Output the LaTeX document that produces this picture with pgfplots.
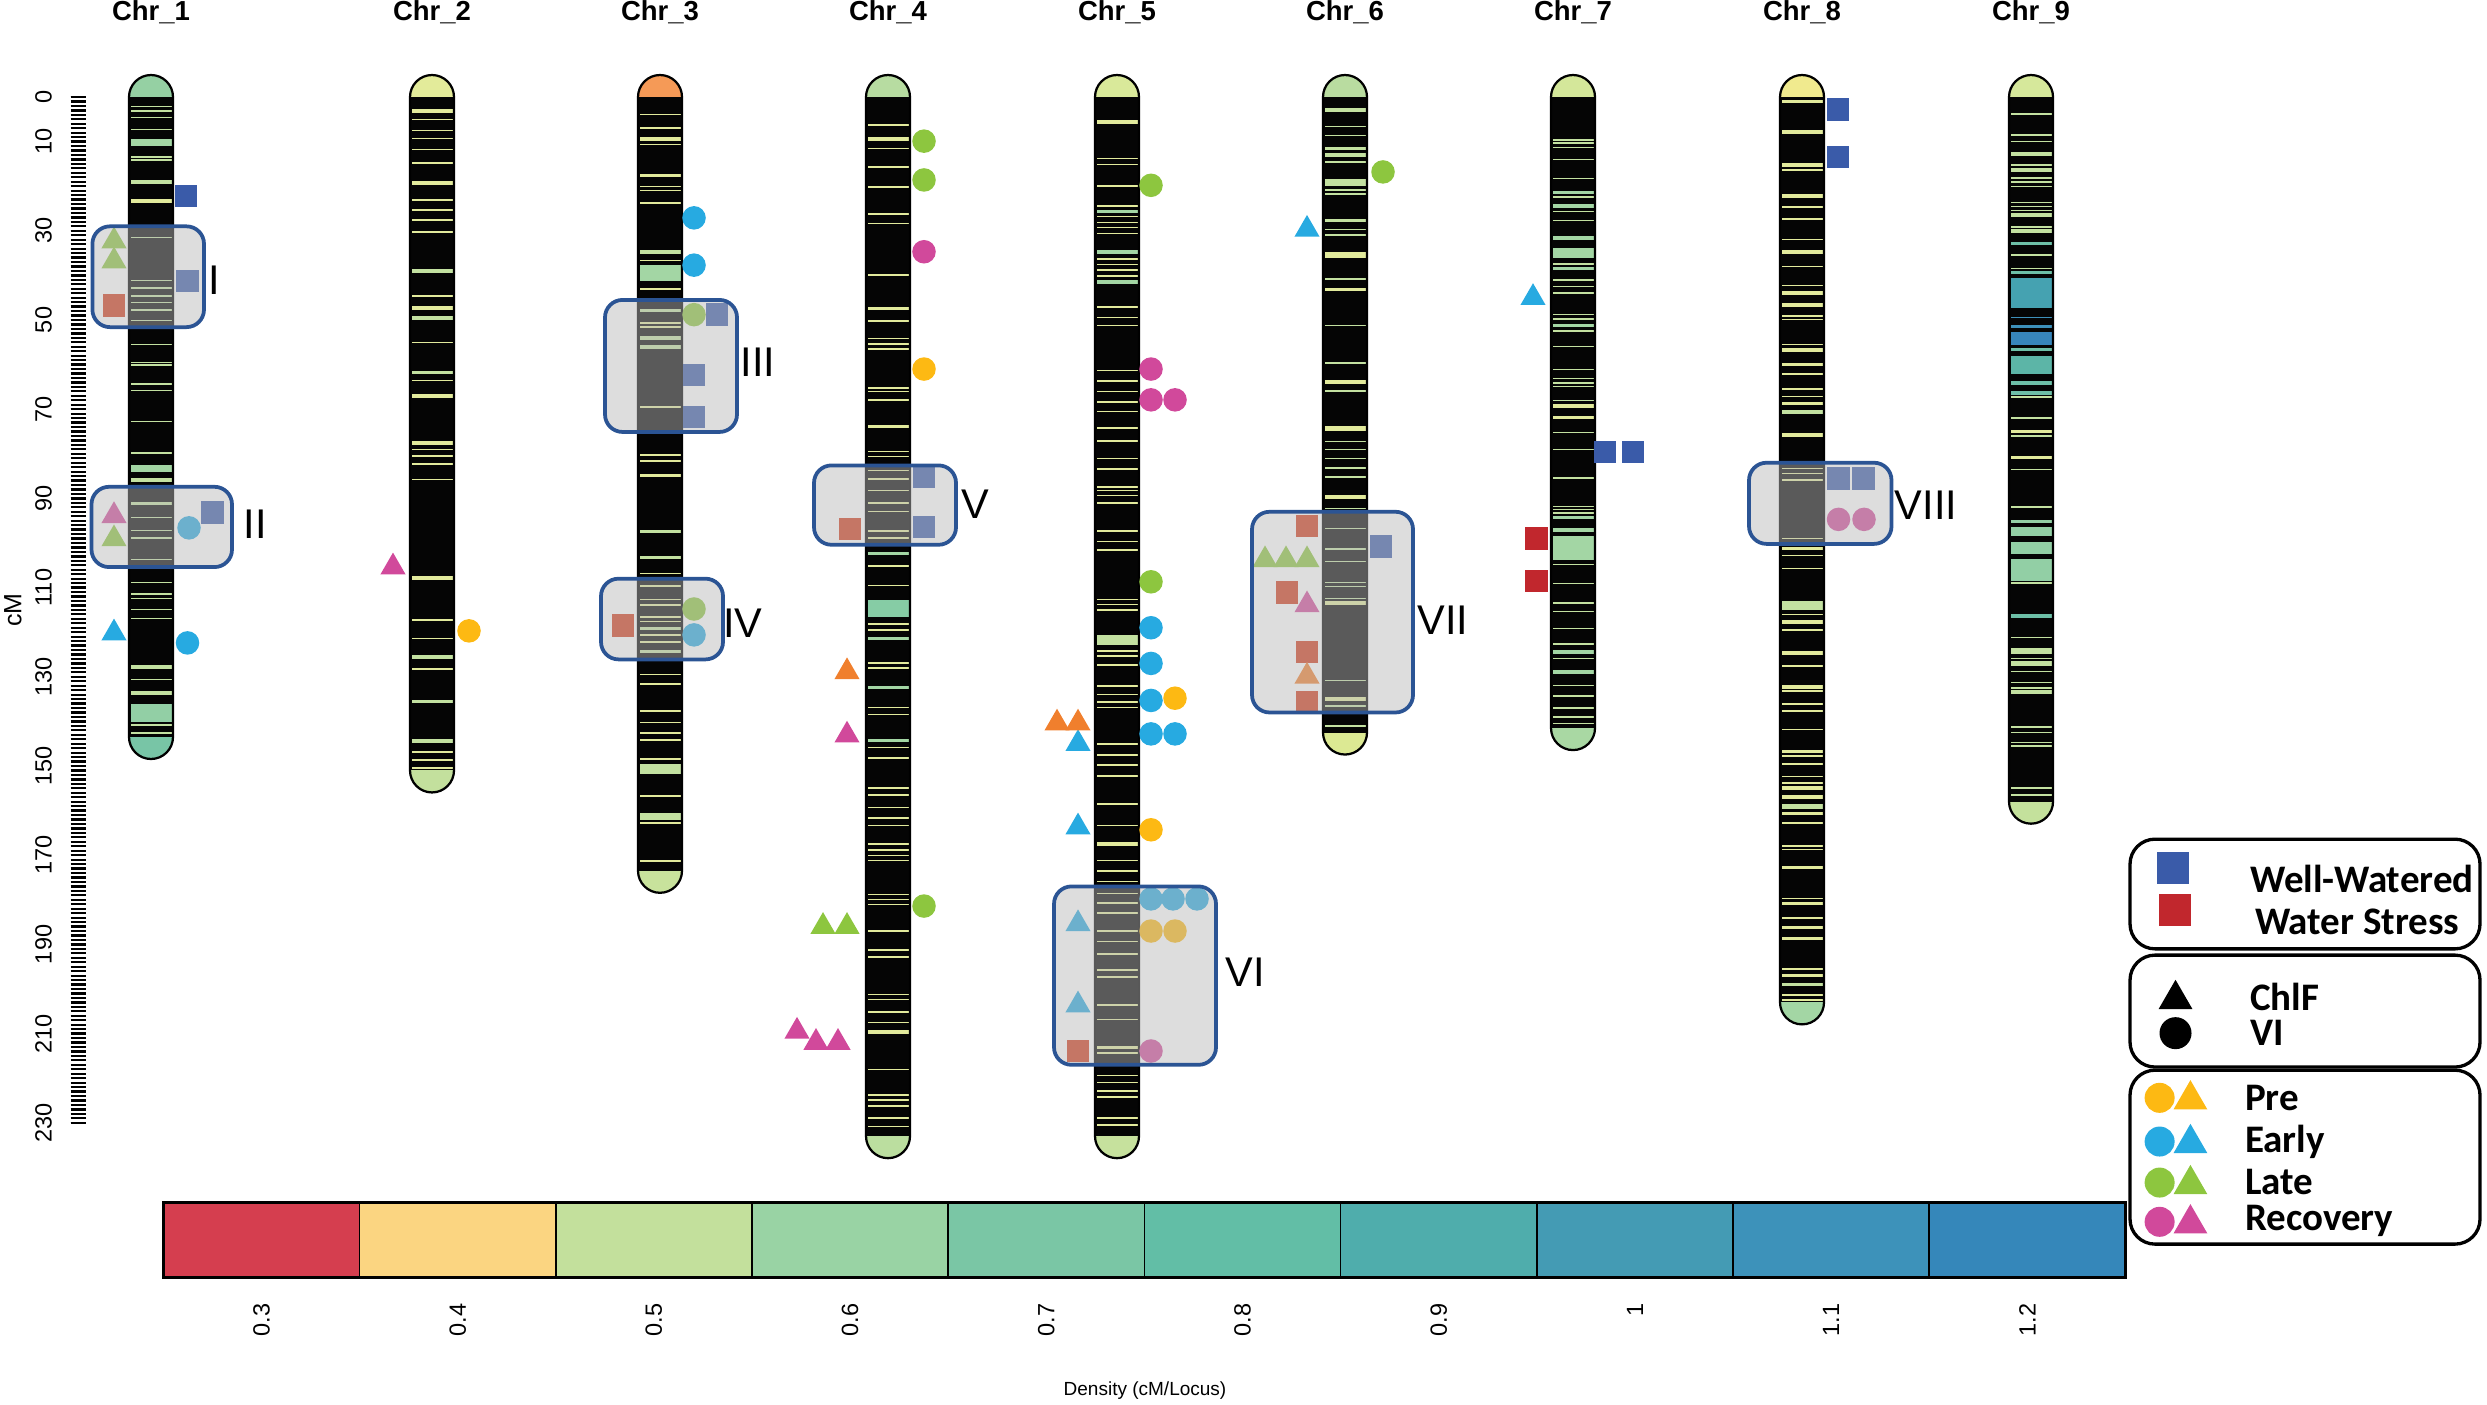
\documentclass[border=0pt]{standalone}
\usepackage{fontspec}
\setmainfont{Liberation Sans}
\newfontfamily\legfont{Carlito}
\usepackage{pgfplots}
\pgfplotsset{compat=1.18}

\definecolor{chrblack}{HTML}{050505}
\definecolor{lyel}{HTML}{E2EA9C}
\definecolor{lgrn}{HTML}{C3E1A1}
\definecolor{mgrn}{HTML}{A3D6A4}
\definecolor{tgrn}{HTML}{86CCA5}
\definecolor{tealc}{HTML}{6DBFA7}
\definecolor{tblue}{HTML}{45A2B1}
\definecolor{dblue}{HTML}{3785BB}
\definecolor{mblue}{HTML}{3D90BA}
\definecolor{bteal}{HTML}{5CB5A7}
\definecolor{g9}{HTML}{92CFA5}
\definecolor{wwblue}{HTML}{3A5BA9}
\definecolor{wsred}{HTML}{C1272D}
\definecolor{wsbox}{HTML}{D23A1A}
\definecolor{prec}{HTML}{FDB913}
\definecolor{earlyc}{HTML}{27AAE1}
\definecolor{latec}{HTML}{8DC63F}
\definecolor{recc}{HTML}{D1499B}
\definecolor{orangec}{HTML}{F07F2D}
\definecolor{boxgray}{HTML}{B8B8B8}
\definecolor{boxblue}{HTML}{2B5494}
\definecolor{capAt}{HTML}{95D0A3}\definecolor{capAb}{HTML}{78C5A6}
\definecolor{capBt}{HTML}{E3EB9A}\definecolor{capBb}{HTML}{C3E09D}
\definecolor{capCt}{HTML}{F59A57}\definecolor{capCb}{HTML}{C8E29C}
\definecolor{capDt}{HTML}{B7DCA1}\definecolor{capDb}{HTML}{BBDE9F}
\definecolor{capEt}{HTML}{D9E99A}\definecolor{capEb}{HTML}{C6E19D}
\definecolor{capFt}{HTML}{B9DCA0}\definecolor{capFb}{HTML}{DCE993}
\definecolor{capGt}{HTML}{D4E79A}\definecolor{capGb}{HTML}{A9D8A3}
\definecolor{capHt}{HTML}{F0EA8E}\definecolor{capHb}{HTML}{A3D6A4}
\definecolor{capIt}{HTML}{D6E89B}\definecolor{capIb}{HTML}{C4E19C}
\definecolor{cbA}{HTML}{D53E4F}\definecolor{cbB}{HTML}{FBD581}
\definecolor{cbC}{HTML}{C3E09C}\definecolor{cbD}{HTML}{99D3A4}
\definecolor{cbE}{HTML}{7AC6A5}\definecolor{cbF}{HTML}{62BEA6}
\definecolor{cbG}{HTML}{4FADAC}\definecolor{cbH}{HTML}{449BB4}
\definecolor{cbI}{HTML}{3D92BA}\definecolor{cbJ}{HTML}{3587BA}

% chromosome body: centre, length (cM), top cap colour, bottom cap colour
\newcommand\chrom[4]{%
  \pgfmathsetmacro\cxl{#1-22}\pgfmathsetmacro\cxr{#1+22}%
  \pgfmathsetmacro\cyb{#2+4.93}\pgfmathsetmacro\cym{#2/2}%
  \edef\tmp{%
    \noexpand\addplot[fill=#3, draw=none, rounded corners=4.4pt] coordinates {(\cxl,\cym) (\cxl,-4.93) (\cxr,-4.93) (\cxr,\cym)};
    \noexpand\addplot[fill=#4, draw=none, rounded corners=4.4pt] coordinates {(\cxl,\cym) (\cxl,\cyb) (\cxr,\cyb) (\cxr,\cym)};
    \noexpand\addplot[fill=chrblack, draw=none] coordinates {(\cxl,0) (\cxr,0) (\cxr,#2) (\cxl,#2)};
  }\tmp}
\newcommand\chromline[2]{%
  \pgfmathsetmacro\cxl{#1-22}\pgfmathsetmacro\cxr{#1+22}%
  \pgfmathsetmacro\cyb{#2+4.93}\pgfmathsetmacro\cym{#2/2}%
  \edef\tmp{%
    \noexpand\addplot[draw=black, line width=0.45pt, rounded corners=4.4pt] coordinates {(\cxl,\cym) (\cxl,-4.93) (\cxr,-4.93) (\cxr,\cyb) (\cxl,\cyb) (\cxl,\cym)};
  }\tmp}
\newcommand\bands[4]{\addplot[only marks, mark=-, mark size=4.1pt, mark options={draw=#2, line width=#3}] table[x expr=#1, y index=0, header=false, row sep=\\] {#4};}
\newcommand\tband[4]{\addplot[only marks, mark=-, mark size=4.1pt, mark options={draw=#2, line width=#4}] coordinates {(#1,#3)};}

\pgfplotsset{
  msq/.style={only marks, mark=square*, mark size=2.05pt, mark options={draw=none}},
  mci/.style={only marks, mark=*, mark size=2.15pt, mark options={draw=none}},
  mtr/.style={only marks, mark=triangle*, mark size=2.5pt, mark options={draw=none}},
  qbox/.style={fill=boxgray, fill opacity=0.48, draw=boxblue, line width=0.75pt, rounded corners=3.5pt},
  lbox/.style={draw=black, line width=0.66pt, rounded corners=5pt},
}

\begin{document}
\begin{tikzpicture}
\begin{axis}[
  scale only axis, width=480.2pt, height=280.8pt,
  xmin=86, xmax=2487, ymin=-21.75, ymax=293.05, y dir=reverse,
  axis x line=none, axis y line=left, y axis line style={draw=none,-},
  xtick=\empty,
  ytick={0,10,30,50,70,90,110,130,150,170,190,210,230},
  minor ytick={0,1,...,230},
  tick align=outside, major tick length=3.1pt, minor tick length=3.1pt,
  every major tick/.append style={line width=0.45pt, black},
  every minor tick/.append style={line width=0.45pt, black},
  yticklabel style={rotate=90, anchor=south, font=\fontsize{4.7}{5}\selectfont, /pgf/number format/assume math mode=true},
  yticklabel shift=0.2pt,
  clip=false, clip marker paths=true,
]
\path (axis cs:0,-21.75) rectangle (axis cs:2487,293.05);

% ---- chromosome bodies
\chrom{151}{143.5}{capAt}{capAb}
\chrom{432}{151}{capBt}{capBb}
\chrom{660}{173.5}{capCt}{capCb}
\chrom{888}{233}{capDt}{capDb}
\chrom{1117}{233}{capEt}{capEb}
\chrom{1345}{142.5}{capFt}{capFb}
\chrom{1573}{141.5}{capGt}{capGb}
\chrom{1802}{203}{capHt}{capHb}
\chrom{2031}{158}{capIt}{capIb}

% ---- bands Chr_1
\bands{151}{lgrn}{0.3pt}{2.1\\3.1\\4.6\\7.3\\13.5\\14.1\\18.8\\19.3\\28.8\\31.5\\41.1\\42.8\\44.6\\46.1\\47.8\\50.1\\55.5\\59.5\\60.1\\64.3\\65.8\\72.8\\79.8\\94.3\\97.2\\98.9\\103.7\\108.9\\111.4\\112.4\\114.9\\116.9\\130.6\\140.8\\142.6\\}
\bands{151}{lyel}{0.7pt}{23.3\\}
\bands{151}{lgrn}{0.7pt}{85.9\\91.1\\127.8\\133.6\\}
\tband{151}{mgrn}{10.15}{1.5pt}
\tband{151}{mgrn}{83.3}{1.25pt}
\tband{151}{g9}{138.1}{3.6pt}
% ---- Chr_2
\bands{432}{lyel}{0.3pt}{5.1\\7.5\\9.3\\11.8\\14.8\\23.1\\25.3\\27.6\\30.3\\44.6\\47.1\\47.5\\55.1\\63.6\\66.8\\67.3\\79.0\\80.5\\82.3\\85.8\\117.3\\121.4\\128.2\\146.9\\148.6\\150.5\\}
\bands{432}{lyel}{0.7pt}{3.1\\19.3\\77.6\\107.9\\}
\bands{432}{lgrn}{0.7pt}{39.0\\49.6\\61.8\\125.6\\135.5\\144.4\\}
% ---- Chr_3
\bands{660}{lyel}{0.3pt}{3.9\\7.0\\10.6\\20.05\\21.0\\23.8\\36.7\\43.0\\50.7\\51.6\\69.5\\80.3\\81.6\\106.8\\109.6\\112.7\\113.9\\116.6\\117.6\\120.6\\122.2\\129.5\\131.6\\137.7\\140.2\\142.6\\144.2\\148.4\\156.7\\162.8\\171.3\\}
\bands{660}{lyel}{0.7pt}{9.4\\17.6\\84.9\\}
\bands{660}{lgrn}{0.7pt}{34.7\\47.9\\54.0\\56.1\\97.4\\103.3\\119.2\\124.3\\}
\tband{660}{mgrn}{39.45}{3.3pt}
\tband{660}{lgrn}{150.7}{1.9pt}
\tband{660}{lgrn}{161.4}{1.4pt}
% ---- Chr_4
\bands{888}{lyel}{0.3pt}{6.25\\11.5\\15.7\\20.2\\26.2\\28.4\\39.9\\50.2\\54.2\\55.4\\56.5\\65.2\\66.0\\67.9\\79.5\\80.6\\83.7\\85.6\\88.2\\91.0\\92.9\\97.3\\98.9\\105.2\\109.5\\118.2\\119.5\\126.9\\128.0\\136.9\\138.4\\145.9\\148.2\\154.9\\156.5\\159.3\\161.7\\163.3\\167.5\\168.8\\170.1\\171.2\\178.8\\179.9\\181.0\\187.0\\191.3\\192.8\\201.2\\202.3\\205.2\\207.5\\218.1\\223.8\\224.9\\226.2\\228.9\\230.8\\}
\bands{888}{lyel}{0.7pt}{9.4\\47.4\\73.9\\209.6\\}
\bands{888}{mgrn}{0.7pt}{102.4\\121.4\\132.4\\144.3\\}
\tband{888}{tgrn}{114.65}{3.4pt}
% ---- Chr_5
\bands{1117}{lyel}{0.3pt}{13.8\\15.1\\19.9\\24.4\\26.8\\28.1\\29.3\\30.6\\36.3\\37.6\\38.8\\40.1\\47.1\\49.4\\51.2\\61.3\\63.7\\66.0\\68.4\\70.5\\74.2\\77.1\\81.0\\83.4\\87.4\\88.2\\89.4\\91.0\\97.3\\99.7\\101.6\\112.7\\113.8\\115.0\\124.2\\125.3\\127.4\\132.1\\134.0\\135.6\\136.9\\145.1\\147.5\\149.8\\152.2\\158.5\\163.3\\171.2\\173.5\\175.9\\178.6\\180.7\\183.0\\187.0\\189.4\\192.2\\195.7\\197.3\\203.6\\206.8\\214.4\\219.4\\221.0\\222.9\\224.2\\228.9\\230.5\\}
\bands{1117}{lyel}{0.7pt}{5.6\\167.5\\213.1\\}
\bands{1117}{mgrn}{0.7pt}{25.7\\34.7\\41.5\\}
\tband{1117}{lgrn}{121.8}{2.1pt}
% ---- Chr_6
\bands{1345}{lgrn}{0.3pt}{6.6\\8.6\\14.6\\20.9\\21.7\\29.7\\30.9\\40.8\\51.2\\59.6\\65.9\\77.2\\79.0\\81.0\\83.2\\85.2\\92.3\\96.8\\101.3\\104.1\\108.8\\109.8\\112.4\\130.8\\136.5\\141.0\\}
\bands{1345}{lyel}{0.7pt}{43.2\\63.9\\89.7\\113.4\\135.0\\}
\bands{1345}{lgrn}{0.7pt}{2.96\\11.6\\13.0\\27.7\\}
\tband{1345}{lgrn}{19.1}{1.4pt}
\tband{1345}{lyel}{35.4}{1.25pt}
\tband{1345}{lyel}{74.35}{1.15pt}
% ---- Chr_7
\bands{1573}{lgrn}{0.3pt}{9.6\\10.3\\11.3\\14.0\\18.3\\22.4\\25.7\\27.7\\37.5\\41.0\\42.5\\44.0\\48.8\\49.8\\52.5\\55.9\\61.1\\63.1\\64.1\\64.9\\68.1\\75.2\\79.0\\85.4\\91.8\\92.5\\93.3\\104.8\\109.1\\113.4\\115.4\\119.2\\122.6\\125.9\\132.0\\134.3\\137.0\\139.0\\140.5\\}
\bands{1573}{lyel}{0.7pt}{69.3\\71.9\\}
\bands{1573}{mgrn}{0.7pt}{21.4\\24.4\\31.6\\38.5\\51.2\\94.3\\97.1\\124.4\\128.9\\}
\tband{1573}{mgrn}{34.95}{1.85pt}
\tband{1573}{mgrn}{101.15}{4.7pt}
% ---- Chr_8
\bands{1802}{lyel}{0.3pt}{16.4\\24.7\\27.4\\31.9\\38.0\\42.3\\49.1\\49.9\\55.5\\62.1\\65.5\\67.2\\83.3\\84.4\\85.9\\99.0\\102.8\\105.7\\116.0\\119.5\\127.6\\133.2\\136.1\\137.7\\141.8\\147.8\\149.5\\152.4\\153.8\\160.4\\160.8\\162.8\\167.9\\168.7\\179.7\\184.1\\195.5\\201.3\\202.5\\}
\bands{1802}{lyel}{0.7pt}{1.0\\7.8\\34.7\\43.9\\46.6\\56.7\\60.0\\68.7\\75.8\\101.2\\117.7\\124.7\\132.3\\146.8\\154.9\\156.9\\172.8\\180.8\\186.2\\188.7\\197.0\\}
\bands{1802}{lgrn}{0.7pt}{199.0\\}
\tband{1802}{lyel}{15.15}{0.8pt}
\tband{1802}{lyel}{22.2}{0.9pt}
\tband{1802}{lgrn}{70.65}{0.8pt}
\tband{1802}{lgrn}{113.95}{1.85pt}
\tband{1802}{lgrn}{159.1}{0.9pt}
% ---- Chr_9
\bands{2031}{lgrn}{0.3pt}{3.8\\8.5\\10.0\\15.2\\18.2\\19.1\\20.1\\23.7\\24.6\\25.5\\29.1\\35.4\\38.4\\67.3\\72.0\\76.0\\83.5\\91.9\\109.0\\121.2\\125.9\\128.8\\131.3\\132.5\\141.2\\142.5\\144.7\\145.5\\154.9\\156.5\\}
\bands{2031}{lgrn}{0.7pt}{12.8\\16.4\\26.5\\30.0\\133.4\\}
\bands{2031}{lyel}{0.7pt}{75.0\\80.8\\}
\bands{2031}{tealc}{0.7pt}{32.8\\39.4\\56.6\\64.1\\66.4\\116.4\\}
\bands{2031}{mblue}{0.3pt}{49.4\\}
\bands{2031}{mblue}{0.7pt}{51.5\\}
\bands{2031}{g9}{0.7pt}{95.2\\}
\tband{2031}{tblue}{44.05}{6pt}
\tband{2031}{dblue}{54.1}{2.7pt}
\tband{2031}{bteal}{60.05}{3.5pt}
\tband{2031}{g9}{97.45}{1.85pt}
\tband{2031}{g9}{101.1}{2.3pt}
\tband{2031}{g9}{106}{4.3pt}
\tband{2031}{lgrn}{124.25}{1.15pt}
\tband{2031}{lgrn}{127}{1.05pt}

% ---- outlines
\chromline{151}{143.5}
\chromline{432}{151}
\chromline{660}{173.5}
\chromline{888}{233}
\chromline{1117}{233}
\chromline{1345}{142.5}
\chromline{1573}{141.5}
\chromline{1802}{203}
\chromline{2031}{158}

% ---- markers inside the QTL boxes (faded by the overlay)
\addplot[mtr, latec] coordinates {(114,32.3)(114,36.8)(114,99.1)(1265,103.8)(1286,103.8)(1307,103.8)};
\addplot[msq, wsbox] coordinates {(114,46.8)(623,118.5)(850,96.9)(1078,213.9)(1307,96.2)(1287,111.1)(1307,124.4)(1307,135.6)};
\addplot[msq, wwblue] coordinates {(187.5,41.3)(212.5,93.2)(717,48.8)(694,62.3)(694,71.7)(924,85.2)(924,96.4)(1381,100.8)(1838.5,85.5)(1863.5,85.5)};
\addplot[mtr, recc] coordinates {(114,93.9)(1307,113.9)};
\addplot[mci, earlyc] coordinates {(189,96.6)(694,120.6)(1151,179.8)(1173,179.8)(1197,179.8)};
\addplot[mci, latec] coordinates {(694,48.8)(694,114.8)};
\addplot[mci, prec] coordinates {(1151,187)(1175,187)};
\addplot[mtr, earlyc] coordinates {(1078,185.4)(1078,203.6)};
\addplot[mci, recc] coordinates {(1151,213.9)(1838.5,94.7)(1864,94.7)};
\addplot[mtr, orangec] coordinates {(1307,129.9)};

% ---- QTL boxes
\addplot[qbox] coordinates {(92.4,40.3)(92.4,29.0)(204,29.0)(204,51.6)(92.4,51.6)(92.4,40.3)};
\addplot[qbox] coordinates {(91.5,96.4)(91.5,87.4)(232,87.4)(232,105.4)(91.5,105.4)(91.5,96.4)};
\addplot[qbox] coordinates {(605,60.3)(605,45.5)(737,45.5)(737,75.1)(605,75.1)(605,60.3)};
\addplot[qbox] coordinates {(601,117)(601,108)(723,108)(723,126.1)(601,126.1)(601,117)};
\addplot[qbox] coordinates {(814,91.5)(814,82.6)(956,82.6)(956,100.4)(814,100.4)(814,91.5)};
\addplot[qbox] coordinates {(1054,197)(1054,177)(1216,177)(1216,217)(1054,217)(1054,197)};
\addplot[qbox] coordinates {(1252,115.5)(1252,93)(1413,93)(1413,138)(1252,138)(1252,115.5)};
\addplot[qbox] coordinates {(1749,91.1)(1749,82)(1891.5,82)(1891.5,100.2)(1749,100.2)(1749,91.1)};

% ---- markers outside boxes
\addplot[msq, wwblue] coordinates {(186,22.2)(1605,79.6)(1633,79.6)(1838,2.8)(1838,13.5)};
\addplot[msq, wsred] coordinates {(1536.5,99)(1536.5,108.5)};
\addplot[mci, earlyc] coordinates {(187.5,122.4)(694,27.1)(694,37.7)(1151,119)(1151,127)(1151,135.3)(1151,142.8)(1175,142.8)};
\addplot[mtr, earlyc] coordinates {(114,120.2)(1078,145)(1078,163.7)(1307,29.7)(1533,45)};
\addplot[mci, latec] coordinates {(924,9.9)(924,18.6)(924,181.4)(1151,19.8)(1151,108.7)(1383,16.8)};
\addplot[mtr, latec] coordinates {(823,186)(847,186)};
\addplot[mci, prec] coordinates {(469,119.7)(924,61)(1175,134.8)(1151,164.3)};
\addplot[mci, recc] coordinates {(924,34.7)(1151,61)(1151,67.9)(1175,67.9)};
\addplot[mtr, recc] coordinates {(393,105.4)(847,143.1)(797,209.5)(816,212)(838,212)};
\addplot[mtr, orangec] coordinates {(847,128.9)(1057,140.4)(1078,140.4)};

% ---- labels
\node[rotate=90, font=\fontsize{5}{6}\selectfont] at (axis cs:13,115) {cM};
\begin{scope}[every node/.style={font=\bfseries\fontsize{5.5}{6}\selectfont}]
\node at (axis cs:151,-19.06) {Chr\_1};
\node at (axis cs:432,-19.06) {Chr\_2};
\node at (axis cs:660,-19.06) {Chr\_3};
\node at (axis cs:888,-19.06) {Chr\_4};
\node at (axis cs:1117,-19.06) {Chr\_5};
\node at (axis cs:1345,-19.06) {Chr\_6};
\node at (axis cs:1573,-19.06) {Chr\_7};
\node at (axis cs:1802,-19.06) {Chr\_8};
\node at (axis cs:2031,-19.06) {Chr\_9};
\end{scope}
\begin{scope}[every node/.style={font=\fontsize{8.3}{9}\selectfont}]
\node at (axis cs:214,41.0) {I};
\node at (axis cs:255,95.9) {II};
\node at (axis cs:758,59.5) {III};
\node at (axis cs:743,117.9) {IV};
\node at (axis cs:975,91.3) {V};
\node at (axis cs:1245,196.2) {VI};
\node at (axis cs:1443,117.4) {VII};
\node at (axis cs:1926,91.5) {VIII};
\end{scope}
\node[font=\fontsize{3.8}{4.5}\selectfont] at (axis cs:1145,290.1) {Density (cM/Locus)};

% ---- legend
\addplot[lbox] coordinates {(2130,178.7)(2130,166.4)(2480,166.4)(2480,191.0)(2130,191.0)(2130,178.7)};
\addplot[lbox] coordinates {(2130,205)(2130,192.4)(2480,192.4)(2480,217.5)(2130,217.5)(2130,205)};
\addplot[lbox] coordinates {(2130,237.7)(2130,218.2)(2480,218.2)(2480,257.2)(2130,257.2)(2130,237.7)};
\addplot[only marks, mark=square*, mark size=3.0pt, wwblue] coordinates {(2173,172.9)};
\addplot[only marks, mark=square*, mark size=3.0pt, wsred] coordinates {(2175,182.3)};
\addplot[only marks, mark=triangle*, mark size=3.5pt, black] coordinates {(2175.5,202.3)};
\addplot[only marks, mark=*, mark size=3.0pt, black] coordinates {(2175.5,209.9)};
\addplot[only marks, mark=*, mark size=2.8pt, prec] coordinates {(2159.6,224.4)};
\addplot[only marks, mark=triangle*, mark size=3.5pt, prec] coordinates {(2190.4,224.8)};
\addplot[only marks, mark=*, mark size=2.8pt, earlyc] coordinates {(2159.6,234.2)};
\addplot[only marks, mark=triangle*, mark size=3.5pt, earlyc] coordinates {(2190.4,234.6)};
\addplot[only marks, mark=*, mark size=2.8pt, latec] coordinates {(2159.6,243.4)};
\addplot[only marks, mark=triangle*, mark size=3.5pt, latec] coordinates {(2190.4,243.8)};
\addplot[only marks, mark=*, mark size=2.8pt, recc] coordinates {(2159.6,252.2)};
\addplot[only marks, mark=triangle*, mark size=3.5pt, recc] coordinates {(2190.4,252.6)};
\begin{scope}[every node/.style={anchor=west, inner sep=0pt, font=\legfont\bfseries\fontsize{7.8}{9}\selectfont}]
\node at (axis cs:2249,175.3) {Well-Watered};
\node at (axis cs:2254,184.9) {Water Stress};
\node at (axis cs:2249,201.7) {ChlF};
\node at (axis cs:2249,209.9) {VI};
\node at (axis cs:2244,224.4) {Pre};
\node at (axis cs:2244,234.2) {Early};
\node at (axis cs:2244,243.3) {Late};
\node at (axis cs:2244,252.0) {Recovery};
\end{scope}
\end{axis}

% ---- density colour key
\begin{axis}[
  at={(15.48pt,25.2pt)}, anchor=south west,
  scale only axis, width=392.4pt, height=15.2pt,
  xmin=0.25, xmax=1.25, ymin=0, ymax=1, ytick=\empty,
  xtick={0.3,0.4,0.5,0.6,0.7,0.8,0.9,1,1.1,1.2},
  xticklabels={0.3,0.4,0.5,0.6,0.7,0.8,0.9,1,1.1,1.2},
  major tick length=0pt, xticklabel shift=1.6pt,
  xticklabel style={rotate=90, anchor=east, font=\fontsize{4.7}{5}\selectfont},
  axis line style={line width=0.6pt}, axis on top, clip=false,
]
\addplot[fill=cbA, draw=black, line width=0.3pt] coordinates {(0.25,0)(0.35,0)(0.35,1)(0.25,1)(0.25,0)};
\addplot[fill=cbB, draw=black, line width=0.3pt] coordinates {(0.35,0)(0.45,0)(0.45,1)(0.35,1)(0.35,0)};
\addplot[fill=cbC, draw=black, line width=0.3pt] coordinates {(0.45,0)(0.55,0)(0.55,1)(0.45,1)(0.45,0)};
\addplot[fill=cbD, draw=black, line width=0.3pt] coordinates {(0.55,0)(0.65,0)(0.65,1)(0.55,1)(0.55,0)};
\addplot[fill=cbE, draw=black, line width=0.3pt] coordinates {(0.65,0)(0.75,0)(0.75,1)(0.65,1)(0.65,0)};
\addplot[fill=cbF, draw=black, line width=0.3pt] coordinates {(0.75,0)(0.85,0)(0.85,1)(0.75,1)(0.75,0)};
\addplot[fill=cbG, draw=black, line width=0.3pt] coordinates {(0.85,0)(0.95,0)(0.95,1)(0.85,1)(0.85,0)};
\addplot[fill=cbH, draw=black, line width=0.3pt] coordinates {(0.95,0)(1.05,0)(1.05,1)(0.95,1)(0.95,0)};
\addplot[fill=cbI, draw=black, line width=0.3pt] coordinates {(1.05,0)(1.15,0)(1.15,1)(1.05,1)(1.05,0)};
\addplot[fill=cbJ, draw=black, line width=0.3pt] coordinates {(1.15,0)(1.25,0)(1.25,1)(1.15,1)(1.15,0)};
\end{axis}
\pgfresetboundingbox
\path (-17.2pt,0pt) rectangle (480.2pt,280.8pt);
\end{tikzpicture}
\end{document}
